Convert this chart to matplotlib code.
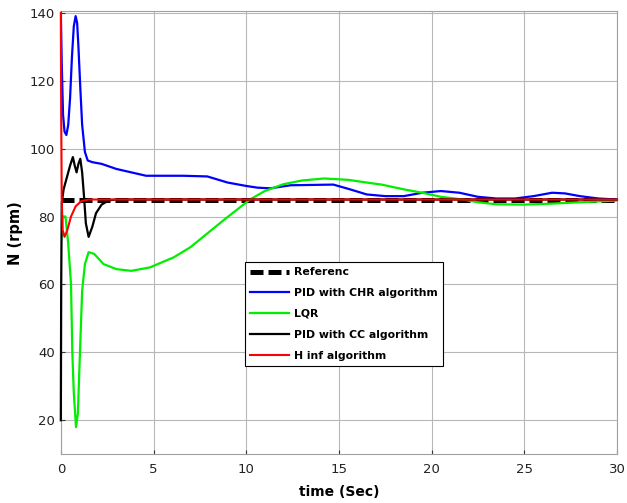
import numpy as np
import matplotlib.pyplot as plt

# reference speed
ref_t = [0, 30]
ref_v = [85, 85]

# PID with CHR algorithm
chr_t = [0, 0.05, 0.12, 0.2, 0.3, 0.4, 0.5, 0.6, 0.7, 0.8, 0.88, 0.95, 1.05, 1.15,
         1.3, 1.45, 1.7, 2.2, 3, 3.8, 4.6, 5.5, 6.6, 7.9, 9, 10, 10.6, 11.3, 12.4,
         14.7, 15.6, 16.5, 17.5, 18.5, 19.5, 20.5, 21.5, 22.5, 23.5, 24.5, 25.5,
         26.5, 27.2, 28, 29, 30]
chr_v = [140, 125, 110, 105, 104, 107, 115, 127, 136, 139, 137, 130, 118, 107,
         99, 96.5, 96, 95.5, 94, 93, 92, 92, 92, 91.8, 90, 89, 88.5, 88.3, 89.2,
         89.4, 88, 86.5, 86, 86, 87, 87.5, 87, 85.8, 85.3, 85.3, 86,
         87, 86.8, 86, 85.3, 85]

# LQR
lqr_t = [0, 0.1, 0.25, 0.4, 0.55, 0.62, 0.7, 0.82, 0.92, 1.02, 1.15, 1.3, 1.5,
         1.8, 2.3, 3, 3.8, 4.8, 6.1, 7, 7.9, 8.8, 9.5, 10.2, 11, 12, 13, 14.2,
         15.5, 16.5, 17.3, 18.5, 19.5, 20.5, 21.7, 22.5, 23.5, 25, 26.5, 28, 30]
lqr_v = [72, 80, 80, 72, 60, 40, 28, 18, 22, 38, 58, 66, 69.5,
         69, 66, 64.5, 64, 65, 68, 71, 75, 79, 82, 85, 87.5, 89.5, 90.6, 91.2,
         90.8, 90, 89.4, 88, 87, 85.8, 85, 84.2, 83.6, 83.5, 83.8, 84.2, 84.7]

# PID with CC algorithm
cc_t = [0, 0.02, 0.05, 0.15, 0.3, 0.5, 0.65, 0.75, 0.85, 0.95, 1.05, 1.15, 1.25,
        1.35, 1.5, 1.7, 1.9, 2.2, 2.6, 3, 30]
cc_v = [20, 60, 84, 88, 91, 95, 97.5, 95, 93, 95.5, 97, 93, 86,
        78, 74, 77, 81, 83.5, 84.8, 85, 85]

# H inf algorithm
hinf_t = [0, 0.02, 0.05, 0.1, 0.2, 0.35, 0.55, 0.8, 1.1, 1.5, 30]
hinf_v = [140, 110, 85, 76, 74, 76, 80, 83, 84.5, 85, 85]

fig = plt.figure(figsize=(6.27, 5.03), dpi=100)
ax = fig.add_axes([0.097, 0.097, 0.887, 0.881])

ax.plot(ref_t, ref_v, color='black', lw=3.6, ls=(0, (2.6, 1.0)), label='Referenc', zorder=3)
ax.plot(chr_t, chr_v, color='#0000ff', lw=1.6, label='PID with CHR algorithm', zorder=4)
ax.plot(lqr_t, lqr_v, color='#00ee00', lw=1.6, label='LQR', zorder=4)
ax.plot(cc_t, cc_v, color='black', lw=1.6, label='PID with CC algorithm', zorder=5,
        clip_on=False)
ax.plot(hinf_t, hinf_v, color='#ff0000', lw=1.5, label='H inf algorithm', zorder=6,
        clip_on=False)

ax.set_xlim(0, 30)
ax.set_ylim(10, 140.5)
ax.set_xticks(np.arange(0, 31, 5))
ax.set_yticks(np.arange(20, 141, 20))
ax.grid(True, color='#b8b8b8', lw=0.8)
ax.set_axisbelow(True)
for s in ax.spines.values():
    s.set_color('#a0a0a0')
    s.set_linewidth(0.8)
ax.tick_params(direction='in', length=3, labelsize=9.5, colors='#333333',
               labelcolor='#222222')
ax.tick_params(axis='x', pad=6)
ax.tick_params(axis='y', pad=4)

ax.set_xlabel('time (Sec)', fontsize=10, fontweight='bold', labelpad=7)
ax.set_ylabel('N (rpm)', fontsize=10.5, fontweight='bold', labelpad=5)

leg = ax.legend(loc='upper left', bbox_to_anchor=(0.331, 0.434), borderaxespad=0,
                prop={'weight': 'bold', 'size': 7.8}, handlelength=3.6,
                fancybox=False, framealpha=1, edgecolor='black',
                borderpad=0.5, labelspacing=1.0, handletextpad=0.4)
leg.get_frame().set_linewidth(0.8)

fig.savefig('out.png', dpi=100)
